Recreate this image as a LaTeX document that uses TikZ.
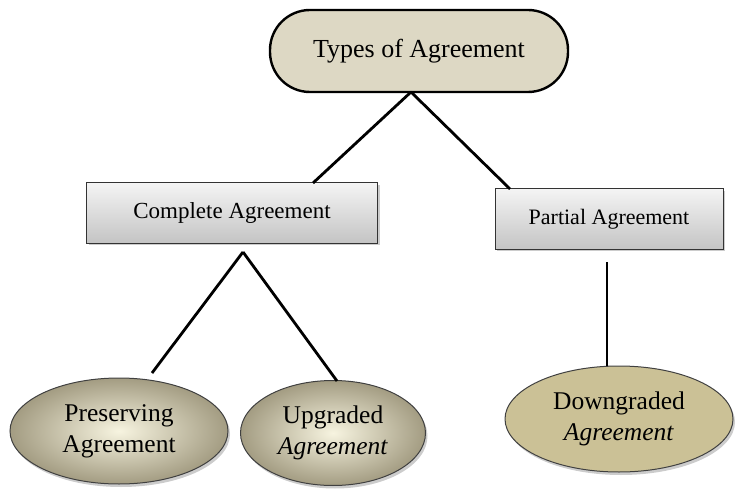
\documentclass[tikz,border=0pt]{standalone}
\usepackage{fontspec}
\setmainfont{Liberation Serif}
\usetikzlibrary{shapes.geometric,shadows}
\definecolor{topfill}{HTML}{DDD8C4}
\definecolor{boxtop}{HTML}{F4F4F4}
\definecolor{boxbot}{HTML}{C4C4C4}
\definecolor{ellin}{HTML}{F7F4E0}
\definecolor{ellout}{HTML}{A39C82}
\definecolor{downfill}{HTML}{CBC196}
\tikzset{
  conn/.style={line width=2.8pt,black},
  topnode/.style={draw=black,line width=2.4pt,rounded corners=40pt,fill=topfill,minimum width=298pt,minimum height=82pt,font=\fontsize{26}{30}\selectfont},
  midbox/.style={draw=black!80,line width=1pt,top color=boxtop,bottom color=boxbot,minimum height=60pt,drop shadow={shadow xshift=2pt,shadow yshift=-2pt,opacity=0.4}},
  leaf/.style={ellipse,draw=black!75,line width=1pt,inner sep=0pt,align=center,font=\fontsize{25.5}{31}\selectfont,drop shadow={shadow xshift=2pt,shadow yshift=-3pt,opacity=0.4}},
  leafgrad/.style={leaf,inner color=ellin,outer color=ellout},
}
\begin{document}
\begin{tikzpicture}[x=1pt,y=-1pt]
\useasboundingbox (0,0) rectangle (736,489);
\node[topnode] (top) at (419,51) {Types of Agreement};
\node[midbox,minimum width=291pt,font=\fontsize{23}{26}\selectfont] (comp) at (232,213) {Complete Agreement};
\node[midbox,minimum width=228pt,font=\fontsize{22}{26}\selectfont] (part) at (609,219) {Partial Agreement};
\node[leafgrad,minimum width=218pt,minimum height=106pt] (pres) at (119,431) {Preserving\\Agreement};
\node[leafgrad,minimum width=185pt,minimum height=105pt] (upg) at (333,433) {Upgraded\\\textit{Agreement}};
\node[leaf,fill=downfill,minimum width=228pt,minimum height=106pt] (down) at (619,419) {Downgraded\\\textit{Agreement}};
\coordinate (apex) at (411,92);
\coordinate (capex) at (243,252);
\coordinate (ptop) at (607,262);
\draw[conn] (apex) -- (313,183);
\draw[conn] (apex) -- (510,189);
\draw[conn] (capex) -- (152,373);
\draw[conn] (capex) -- (337,381);
\draw[conn] (ptop) -- (607,366);
\end{tikzpicture}
\end{document}
